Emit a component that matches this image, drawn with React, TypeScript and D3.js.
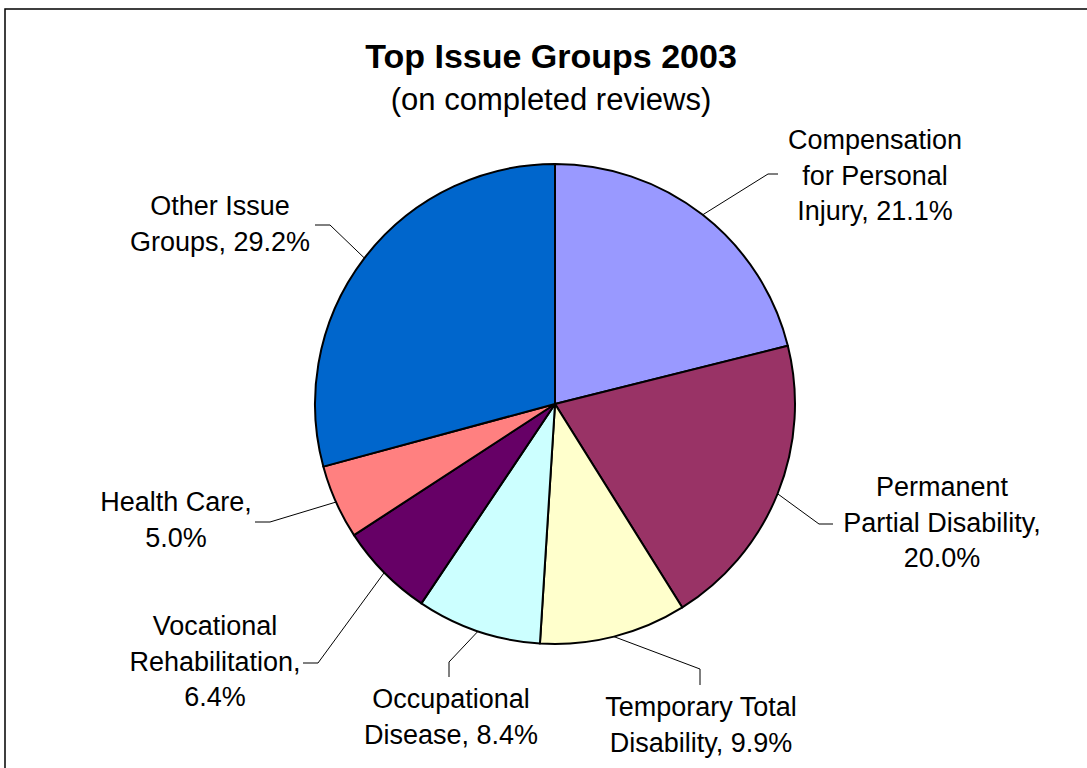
import React from "react";
import * as d3 from "d3";

const categories = [
  "Compensation for Personal Injury",
  "Permanent Partial Disability",
  "Temporary Total Disability",
  "Occupational Disease",
  "Vocational Rehabilitation",
  "Health Care",
  "Other Issue Groups",
];
const values = [21.1, 20.0, 9.9, 8.4, 6.4, 5.0, 29.2];
const colors = ["#9999FF", "#993366", "#FFFFCC", "#CCFFFF", "#660066", "#FF8080", "#0066CC"];
const labelLines = [
  ["Compensation", "for Personal", "Injury, 21.1%"],
  ["Permanent", "Partial Disability,", "20.0%"],
  ["Temporary Total", "Disability, 9.9%"],
  ["Occupational", "Disease, 8.4%"],
  ["Vocational", "Rehabilitation,", "6.4%"],
  ["Health Care,", "5.0%"],
  ["Other Issue", "Groups, 29.2%"],
];

// label layout: text center x, first baseline y, leader elbow, leader end
const labelLayout = [
  { x: 875, y: 149, elbow: [768, 174], end: [778, 174] },
  { x: 942, y: 496, elbow: [819, 524], end: [833, 524] },
  { x: 701, y: 716, elbow: [700, 669], end: [700, 685] },
  { x: 451, y: 708, elbow: [449, 662], end: [449, 677] },
  { x: 215, y: 635, elbow: [318, 663], end: [303, 663] },
  { x: 176, y: 511, elbow: [270, 522], end: [255, 522] },
  { x: 220, y: 215, elbow: [330, 225], end: [315, 225] },
];

const W = 1087;
const H = 768;
const cx = 555;
const cy = 404;
const R = 240;
const FONT = "'Liberation Sans', Arial, sans-serif";

export default function App() {
  const pie = d3.pie<number>().sort(null).value((d) => d);
  const arcs = pie(values);
  const arc = d3.arc<d3.PieArcDatum<number>>().innerRadius(0).outerRadius(R);

  return (
    <div style={{ position: "absolute", left: 0, top: 0 }}>
      <svg width={W} height={H} style={{ display: "block", background: "#fff" }}>
        <rect x={5} y={9} width={W + 20} height={H + 20} fill="#fff" stroke="#000" strokeWidth={1.5} />
        <text x={551} y={68} textAnchor="middle" fontFamily={FONT} fontWeight="bold" fontSize={34}>
          Top Issue Groups 2003
        </text>
        <text x={551} y={110} textAnchor="middle" fontFamily={FONT} fontSize={31}>
          (on completed reviews)
        </text>
        <g transform={`translate(${cx},${cy})`}>
          {arcs.map((a, i) => (
            <path key={categories[i]} d={arc(a) || ""} fill={colors[i]} stroke="#000" strokeWidth={2} strokeLinejoin="round" />
          ))}
        </g>
        {arcs.map((a, i) => {
          const mid = (a.startAngle + a.endAngle) / 2;
          const sx = cx + R * Math.sin(mid);
          const sy = cy - R * Math.cos(mid);
          const L = labelLayout[i];
          return (
            <polyline
              key={"l" + i}
              points={`${sx},${sy} ${L.elbow[0]},${L.elbow[1]} ${L.end[0]},${L.end[1]}`}
              fill="none"
              stroke="#000"
              strokeWidth={1}
            />
          );
        })}
        {labelLines.map((lines, i) => {
          const L = labelLayout[i];
          return (
            <text key={"t" + i} textAnchor="middle" fontFamily={FONT} fontSize={27} fill="#000">
              {lines.map((ln, j) => (
                <tspan key={j} x={L.x} y={L.y + j * 35.5}>
                  {ln}
                </tspan>
              ))}
            </text>
          );
        })}
      </svg>
    </div>
  );
}
